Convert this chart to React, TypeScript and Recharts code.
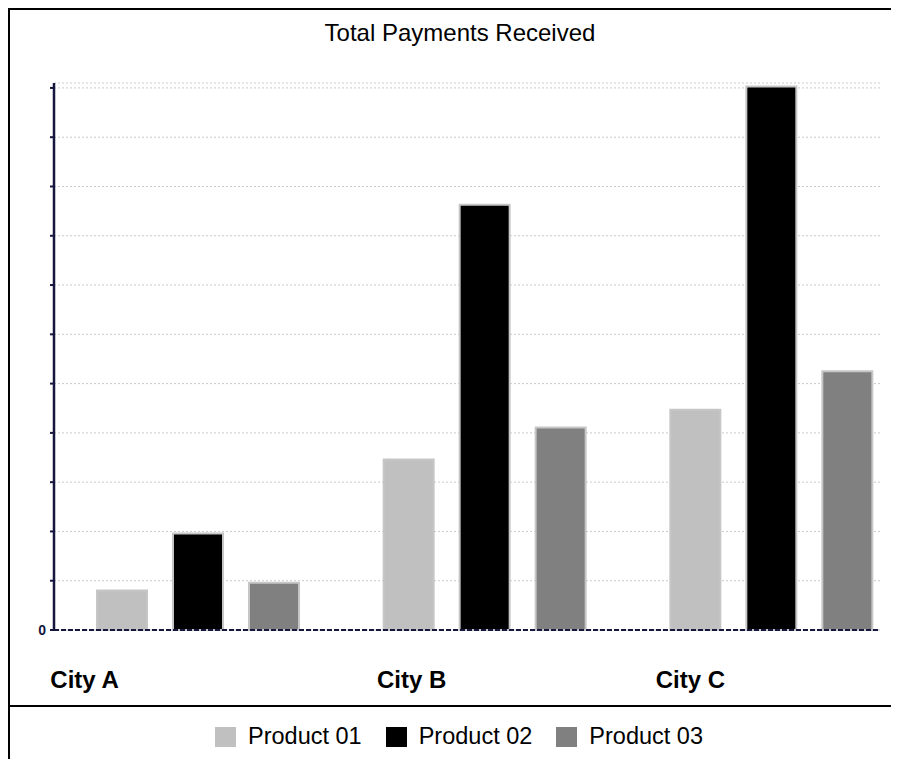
import { BarChart, Bar, XAxis, YAxis, CartesianGrid, Legend } from "recharts";

const cities = ["City A", "City B", "City C"];
const product01 = [800, 3460, 4470];
const product02 = [1960, 8630, 11030];
const product03 = [960, 4110, 5250];
const yTicks = [0, 1000, 2000, 3000, 4000, 5000, 6000, 7000, 8000, 9000, 10000, 11000];

const series = [
  { key: "Product 01", fill: "#c0c0c0" },
  { key: "Product 02", fill: "#000000" },
  { key: "Product 03", fill: "#808080" },
];

const data = cities.map((city, i) => ({
  city,
  "Product 01": product01[i],
  "Product 02": product02[i],
  "Product 03": product03[i],
}));

const FONT = '"Liberation Sans", Arial, sans-serif';
const NAVY = "#16163f";

// city labels sit left of their groups in the original
const labelShift = [-148, -108, -116];

function CityTick(props: any) {
  const { x, y, payload, index } = props;
  return (
    <text x={x + labelShift[index]} y={y + 58} fontFamily={FONT} fontSize={24} fontWeight="bold" fill="#000">
      {payload.value}
    </text>
  );
}

function ZeroTick(props: any) {
  const { x, y, payload } = props;
  if (payload.value !== 0) return <g />;
  return (
    <text x={x - 2} y={y + 5} textAnchor="end" fontFamily={FONT} fontSize={14} fontWeight="bold" fill={NAVY}>
      0
    </text>
  );
}

function LegendContent() {
  return (
    <div style={{ display: "flex", justifyContent: "center", alignItems: "center", paddingLeft: 18, fontFamily: FONT, fontSize: 23.5, color: "#000" }}>
      {series.map((s, i) => (
        <div key={s.key} style={{ display: "flex", alignItems: "center", marginLeft: i === 0 ? 0 : 24 }}>
          <span style={{ width: 21, height: 20, background: s.fill, display: "inline-block", marginRight: 12 }} />
          <span>{s.key}</span>
        </div>
      ))}
    </div>
  );
}

export default function App() {
  return (
    <div
      style={{
        position: "relative",
        width: 920,
        height: 780,
        boxSizing: "border-box",
        borderTop: "2px solid #000",
        borderLeft: "2px solid #000",
      }}
    >
      <style>{"html,body{overflow:hidden}"}</style>
      <div
        style={{
          position: "absolute",
          top: 9,
          left: 0,
          width: 900,
          textAlign: "center",
          fontFamily: FONT,
          fontSize: 24,
          color: "#000",
        }}
      >
        Total Payments Received
      </div>
      <div style={{ position: "absolute", top: 695, left: 0, width: 918, height: 2, background: "#000" }} />
      <div style={{ position: "absolute", top: 0, left: 0 }}>
        <BarChart
          width={874}
          height={760}
          data={data}
          margin={{ top: 73, right: 4, bottom: 80, left: 14 }}
          barSize={50}
          barGap={26}
        >
          <CartesianGrid horizontal vertical={false} stroke="#cacaca" strokeDasharray="2 2" />
          <XAxis
            dataKey="city"
            height={60}
            padding={{ left: 1, right: -35 }}
            axisLine={{ stroke: NAVY, strokeWidth: 2, strokeDasharray: "5 2" }}
            tickLine={false}
            tickSize={0}
            tickMargin={0}
            tick={<CityTick />}
            interval={0}
          />
          <YAxis
            width={30}
            domain={[0, 11100]}
            ticks={yTicks}
            axisLine={{ stroke: NAVY, strokeWidth: 2.5 }}
            tickLine={{ stroke: NAVY, strokeWidth: 2 }}
            tickSize={4}
            tickMargin={2}
            tick={<ZeroTick />}
          />
          <Legend
            layout="horizontal"
            verticalAlign="middle"
            align="center"
            content={<LegendContent />}
            wrapperStyle={{ top: 713, left: 0, width: 880 }}
          />
          {series.map((s) => (
            <Bar key={s.key} dataKey={s.key} fill={s.fill} stroke="#c6c6c6" strokeWidth={2} isAnimationActive={false} />
          ))}
        </BarChart>
      </div>
    </div>
  );
}
